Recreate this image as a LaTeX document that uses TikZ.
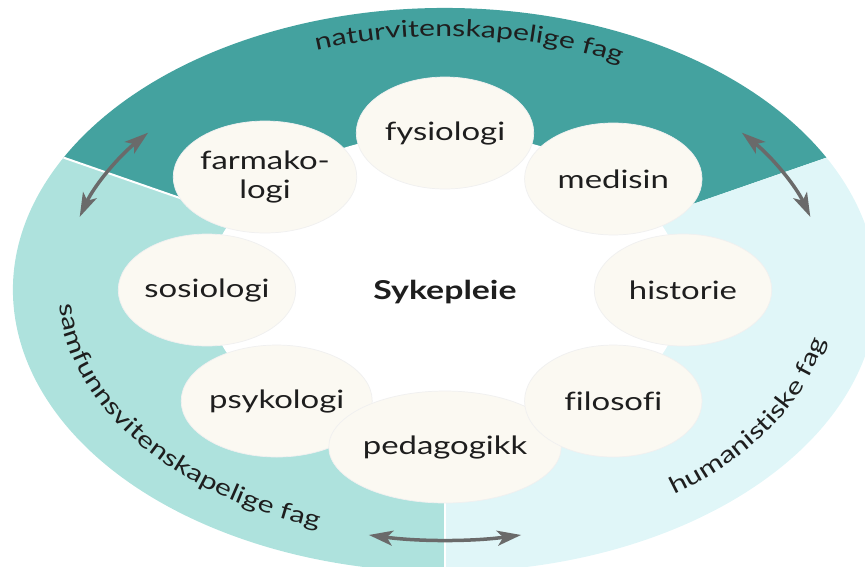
\documentclass[tikz,border=0pt]{standalone}
\usepackage{fontspec}
\setmainfont{Lato}[FakeStretch=1.3,Ligatures=NoCommon]
\usepackage{xcolor}
\usepackage{tikz}
\usetikzlibrary{shapes.geometric,arrows.meta,decorations.text}
\definecolor{SPTeal}  {HTML}{44A29F}
\definecolor{SPTealLt}{HTML}{AEE2DD}
\definecolor{SPBlue}  {HTML}{E0F6F8}
\definecolor{SPCream} {HTML}{FBF9F2}
\definecolor{SPGray}  {HTML}{6A6A6A}
\definecolor{SPInk}   {HTML}{1E1E1E}

\begin{document}
\begin{tikzpicture}[x=0.02cm,y=0.02cm,
    seam/.style={draw=white,line width=0.04cm},
    bubble/.style={ellipse,minimum width=3.55cm,minimum height=2.24cm,inner sep=0pt,
      fill=SPCream,draw=black!6,text=SPInk,align=center,font=\fontsize{14.4}{16.5}\selectfont},
    swap/.style={draw=SPGray,line width=0.07cm,
      {Stealth[length=0.48cm,width=0.3cm,inset=0.12cm]}-{Stealth[length=0.48cm,width=0.3cm,inset=0.12cm]}},
    ringtext/.style={postaction={decorate},decoration={text along path,text align=center,
      text={|\fontsize{13.2}{15}\selectfont\color{SPInk}|#1}}}]
    \useasboundingbox (-445,-276) rectangle (420,290);
    \clip (-445,-276) rectangle (420,290);

    % Sectors
    \fill[SPTeal]   (0,0) -- (28:432 and 282)  arc[start angle=28, end angle=152,x radius=432,y radius=282] -- cycle;
    \fill[SPTealLt] (0,0) -- (152:432 and 282) arc[start angle=152,end angle=270,x radius=432,y radius=282] -- cycle;
    \fill[SPBlue]   (0,0) -- (270:432 and 282) arc[start angle=270,end angle=388,x radius=432,y radius=282] -- cycle;
    \draw[seam] (0,0) -- (152:432 and 282);
    \draw[seam] (0,0) -- (270:432 and 282);
    \fill[white] (0,0) ellipse[x radius=238,y radius=157];

    % Ring labels
    \path[ringtext={naturvitenskapelige fag}]
      (122:388 and 254) arc[start angle=122,end angle=50,x radius=388,y radius=254];
    \path[ringtext={samfunnsvitenskapelige fag}]
      (177:386 and 252) arc[start angle=177,end angle=255,x radius=386,y radius=252];
    \path[ringtext={humanistiske fag}]
      (-62:388 and 254) arc[start angle=-62,end angle=0,x radius=388,y radius=254];

    % Arrows across the seams
    \coordinate (nl) at (141:382 and 250);
    \coordinate (nr) at (39:382 and 250);
    \coordinate (sb) at (258.5:382 and 250);
    \draw[swap] (nl) arc[start angle=141,end angle=163,x radius=382,y radius=250];
    \draw[swap] (nr) arc[start angle=39,end angle=17,x radius=382,y radius=250];
    \draw[swap] (sb) arc[start angle=258.5,end angle=281.5,x radius=382,y radius=250];

    % Subjects
    \node[bubble] (farm) at (-180,113)          {farmako-\\logi};
    \node[bubble] (sos)  at (180:238 and 157) {sosiologi};
    \node[bubble] (psy)  at (225:238 and 157) {psykologi};
    \node[bubble] (ped)  at (270:238 and 157) {pedagogikk};
    \node[bubble] (fil)  at (315:238 and 157) {filosofi};
    \node[bubble] (his)  at (0:238 and 157)   {historie};
    \node[bubble] (med)  at (45:238 and 157)  {medisin};
    \node[bubble] (fys)  at (90:238 and 157)  {fysiologi};

    \node[font=\fontsize{14.8}{17}\selectfont\bfseries,text=SPInk] (syk) at (0,-2) {Sykepleie};
\end{tikzpicture}
\end{document}
